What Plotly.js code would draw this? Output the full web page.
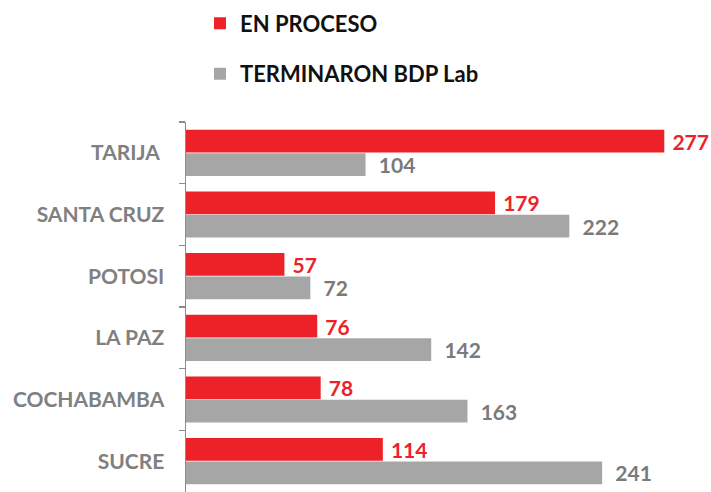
<!DOCTYPE html>
<html>
<head>
<meta charset="utf-8">
<script src="https://cdn.plot.ly/plotly-3.0.1.min.js"></script>
<style>html,body{margin:0;padding:0;background:#fff;}#chart{width:711px;height:492px;}</style>
</head>
<body>
<div id="chart"></div>
<script>
var categories = ["TARIJA ", "SANTA CRUZ", "POTOSI", "LA PAZ", "COCHABAMBA", "SUCRE"];
var enProceso = [277, 179, 57, 76, 78, 114];
var terminaron = [104, 222, 72, 142, 163, 241];
var seriesNames = ["EN PROCESO", "TERMINARON BDP Lab"];

var RED = "#ED2229";
var GRAY = "#A6A6A6";
var FONT = "Lato, 'Open Sans', sans-serif";

var traces = [
  {
    type: "bar", orientation: "h", name: seriesNames[0], legendgroup: "a",
    y: categories, x: enProceso,
    marker: {color: RED},
    textposition: "outside", texttemplate: " %{x}",
    textfont: {family: FONT, size: 21, color: RED, weight: 700},
    constraintext: "none", cliponaxis: false, hoverinfo: "skip"
  },
  {
    type: "bar", orientation: "h", name: seriesNames[1], legendgroup: "b",
    y: categories, x: terminaron,
    marker: {color: GRAY},
    textposition: "outside", texttemplate: "  %{x}",
    textfont: {family: FONT, size: 21, color: "#7A7A7A", weight: 700},
    constraintext: "none", cliponaxis: false, hoverinfo: "skip"
  }
];

var layout = {
  width: 711, height: 492,
  margin: {l: 186, r: 7, t: 122, b: 0, pad: 0},
  paper_bgcolor: "#fff", plot_bgcolor: "#fff",
  barmode: "group", bargap: 0.24, bargroupgap: 0.03,
  font: {family: FONT},
  showlegend: true,
  legend: {
    x: 0.027, xanchor: "left", y: 0.995, yref: "container", yanchor: "top",
    traceorder: "grouped", tracegroupgap: 19,
    font: {family: FONT, size: 22, color: "#111", weight: 700},
    bgcolor: "rgba(0,0,0,0)"
  },
  xaxis: {
    range: [0, 300], visible: false, fixedrange: true
  },
  yaxis: {
    type: "category", autorange: "reversed",
    showline: true, linecolor: "#8c8c8c", linewidth: 1.5,
    ticks: "outside", tickson: "boundaries", ticklen: 6, tickcolor: "#8c8c8c", tickwidth: 1.5,
    ticklabelstandoff: 16,
    tickfont: {family: FONT, size: 21, color: "#808080", weight: 700},
    showgrid: false, zeroline: false, fixedrange: true
  }
};

Plotly.newPlot("chart", traces, layout, {displayModeBar: false, staticPlot: true});
</script>
</body>
</html>
